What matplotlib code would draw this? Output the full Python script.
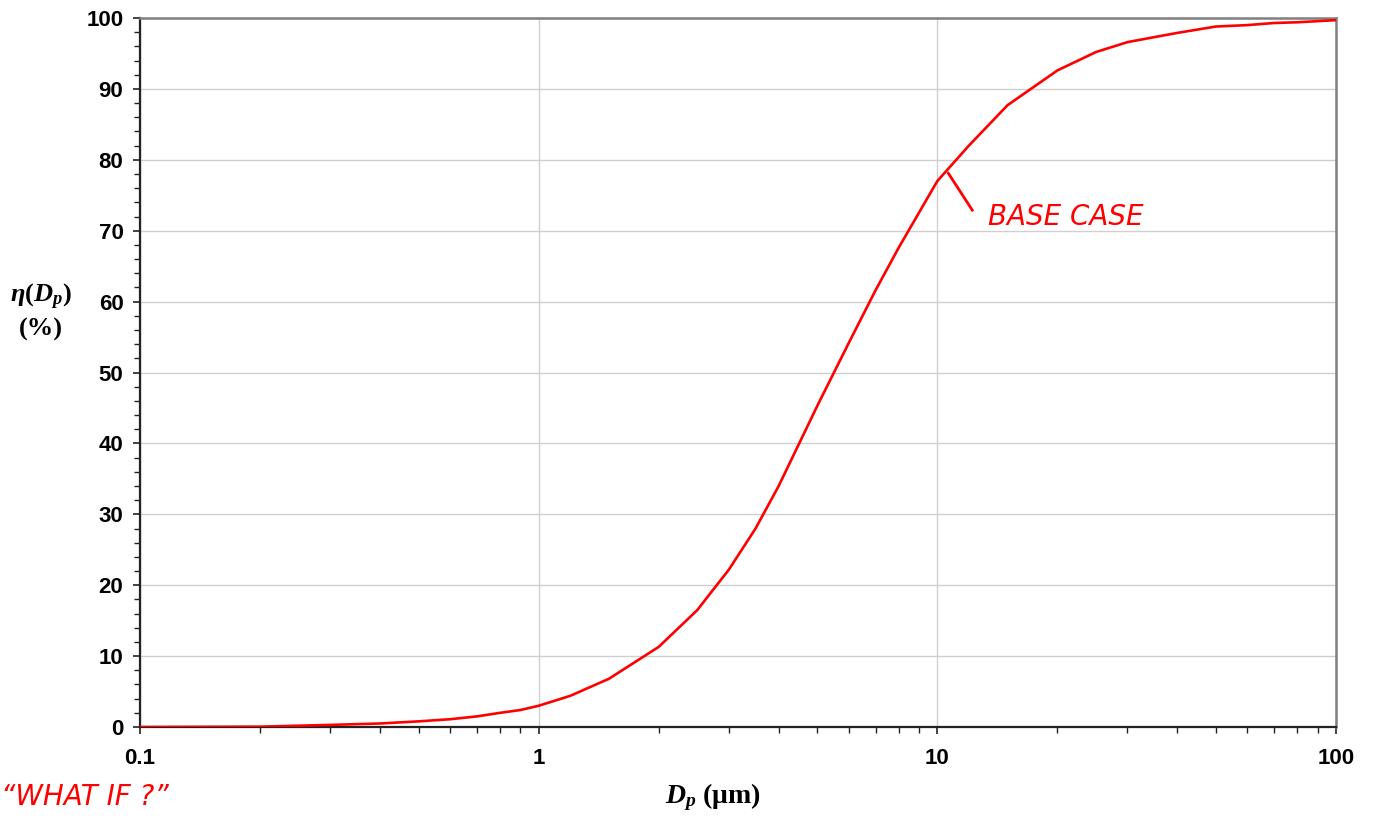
import numpy as np
import matplotlib
matplotlib.use('Agg')
from matplotlib import pyplot as plt
from matplotlib.ticker import FixedLocator, FuncFormatter, MultipleLocator, LogLocator, NullFormatter

plt.rcParams['mathtext.fontset'] = 'custom'
plt.rcParams['mathtext.it'] = 'Liberation Serif:italic:bold'
plt.rcParams['mathtext.rm'] = 'Liberation Serif:bold'
plt.rcParams['mathtext.bf'] = 'Liberation Serif:italic:bold'

# particle diameter (um) and collection efficiency (%)
dp = [0.1, 0.2, 0.3, 0.4, 0.5, 0.6, 0.7, 0.8, 0.9, 1, 1.2, 1.5, 2, 2.5, 3, 3.5, 4,
      5, 6, 7, 8, 10, 12, 15, 20, 25, 30, 35, 40, 50, 60, 70, 80, 100]
eta = [0.0, 0.05, 0.3, 0.5, 0.8, 1.1, 1.5, 2.0, 2.4, 3.0, 4.4, 6.8, 11.3, 16.5, 22.2, 28.0, 34.0,
       45.3, 54.2, 61.6, 67.6, 77.0, 82.0, 87.7, 92.6, 95.2, 96.6, 97.3, 97.9, 98.8, 99.0, 99.3, 99.4, 99.7]

x_ticks = [0.1, 1, 10, 100]
y_ticks = [0, 10, 20, 30, 40, 50, 60, 70, 80, 90, 100]

fig = plt.figure(figsize=(13.73, 8.19), dpi=100)
ax = fig.add_axes([0.102, 0.1123, 0.871, 0.8657])

ax.plot(dp, eta, color='#ff0000', lw=1.9, zorder=3)

ax.set_xscale('log')
ax.set_xlim(0.1, 100)
ax.set_ylim(0, 100)
ax.xaxis.set_major_locator(FixedLocator(x_ticks))
ax.xaxis.set_major_formatter(FuncFormatter(lambda v, p: '{:g}'.format(v)))
ax.xaxis.set_minor_locator(LogLocator(base=10, subs=np.arange(2, 10)))
ax.xaxis.set_minor_formatter(NullFormatter())
ax.yaxis.set_major_locator(FixedLocator(y_ticks))
ax.yaxis.set_minor_locator(MultipleLocator(2))

ax.grid(True, which='major', color='#d0d0d0', lw=1.0, zorder=0)
ax.set_axisbelow(True)

for s in ['left', 'bottom']:
    ax.spines[s].set_color('#222222')
    ax.spines[s].set_linewidth(1.6)
for s in ['top', 'right']:
    ax.spines[s].set_color('#808080')
    ax.spines[s].set_linewidth(1.8)

ax.tick_params(axis='both', which='major', direction='out', length=5, width=1.2, color='#222222')
ax.tick_params(axis='both', which='minor', direction='out', length=4, width=1.0, color='#222222')
ax.tick_params(axis='x', which='major', pad=10)
ax.tick_params(axis='y', which='major', pad=7)
for lab in ax.get_xticklabels() + ax.get_yticklabels():
    lab.set_fontfamily('Liberation Sans')
    lab.set_fontweight('bold')
    lab.set_fontsize(16)

ax.set_xlabel(r'$D_p$ (μm)', fontfamily='Liberation Serif', fontweight='bold', fontsize=20)
ax.xaxis.label.set_va('center')
ax.xaxis.set_label_coords(0.479, -0.099)
fig.text(0.03, 0.638, r'$\eta(D_p)$', fontsize=19, ha='center', va='center',
         fontfamily='Liberation Serif', fontweight='bold')
fig.text(0.03, 0.598, '(%)', fontsize=19, ha='center', va='center',
         fontfamily='Liberation Serif', fontweight='bold')

# handwritten-style notes
ax.plot([10.66, 12.24], [78.1, 72.9], color='#ff0000', lw=2.0, zorder=3)
ax.text(13.4, 72.0, 'BASE CASE', color='#ff0000', fontsize=20, fontstyle='italic',
        fontfamily='DejaVu Sans', va='center', ha='left')
fig.text(0.001, 0.027, '\u201cWHAT IF ?\u201d', color='#ff0000', fontsize=20,
         fontstyle='italic', fontfamily='DejaVu Sans', va='center', ha='left')

fig.savefig('out.png', dpi=100)
